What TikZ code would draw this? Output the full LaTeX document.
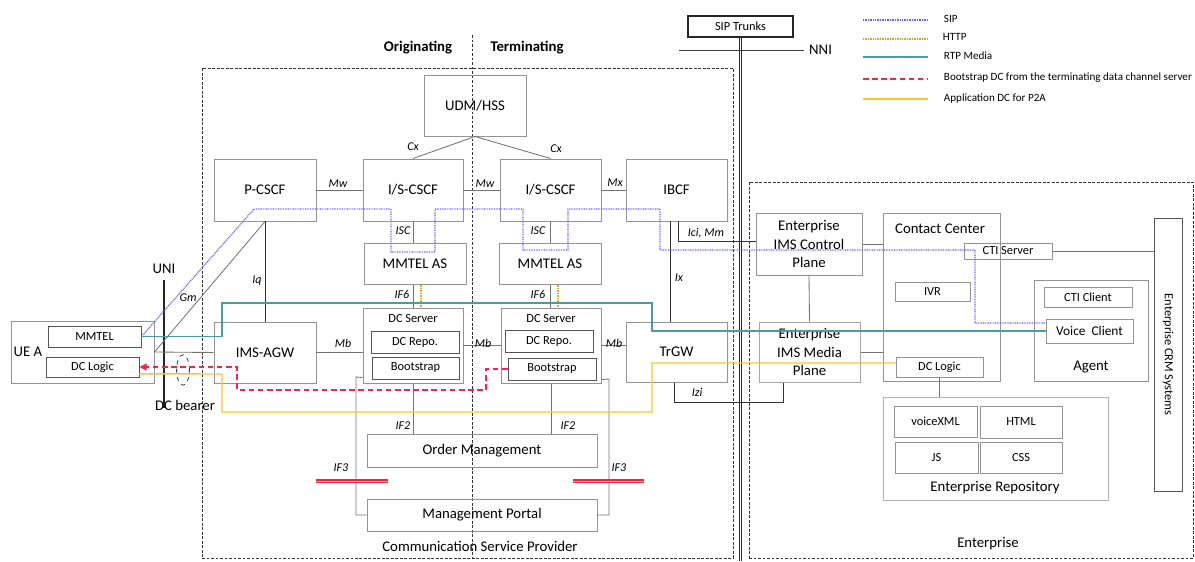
\documentclass[tikz,border=0pt]{standalone}
\usepackage{fontspec}
\setmainfont{Carlito}
\usepackage{xcolor}
\usepackage{tikz}
\usetikzlibrary{fit,arrows.meta}

\definecolor{boxgray}{HTML}{939393}
\definecolor{innergray}{HTML}{555555}
\definecolor{sipblue}{HTML}{6A5CFF}
\definecolor{httpgold}{HTML}{D4AA1E}
\definecolor{rtpteal}{HTML}{4B9CA2}
\definecolor{bootred}{HTML}{FF2050}
\definecolor{appgold}{HTML}{FFC425}
\definecolor{ifred}{HTML}{D8333D}

\newcommand{\boxfont}{\fontsize{10.5}{13}\selectfont}
\newcommand{\subfont}{\fontsize{8.8}{10.5}\selectfont}
\newcommand{\legfont}{\fontsize{7.9}{9}\selectfont}

\tikzset{
  corners/.style n args={4}{at={({(#1+#3)/2},{(#2+#4)/2})},
    minimum width={(#3-#1)*0.025cm}, minimum height={(#4-#2)*0.025cm}},
  box/.style={draw=boxgray, line width=0.7pt, inner sep=0pt, align=center, font=\boxfont},
  inbox/.style={draw=innergray, line width=0.7pt, inner sep=0pt, align=center, font=\subfont},
  area/.style={draw=black!80, line width=0.6pt, dash pattern=on 2pt off 1.2pt},
  link/.style={draw=black!55, line width=0.6pt},
  iface/.style={font=\fontsize{8.5}{10}\selectfont\itshape},
  sip/.style={draw=sipblue, line width=0.9pt, dash pattern=on 0.6pt off 0.6pt},
  http/.style={draw=httpgold, line width=0.9pt, dash pattern=on 0.6pt off 0.6pt},
  rtp/.style={draw=rtpteal, line width=0.8pt},
  boot/.style={draw=bootred, line width=0.8pt, dash pattern=on 4pt off 2.5pt},
  appdc/.style={draw=appgold, line width=1pt},
  cut/.style={draw=ifred, line width=0.9pt, double=red!40, double distance=0.7pt}
}

\begin{document}
\begin{tikzpicture}[x=0.025cm, y=-0.025cm]
% data channel: operator network (originating / terminating side) and enterprise contact center
\useasboundingbox (0,0) rectangle (1195,561);

\draw[sip] (863,20) -- (928,20);
\node[anchor=west, font=\legfont] at (939,19) {SIP};
\draw[http] (863,39) -- (928,39);
\node[anchor=west, font=\legfont] at (938,37) {HTTP};
\draw[rtp] (863,57) -- (928,57);
\node[anchor=west, font=\legfont] at (939,56) {RTP Media};
\draw[boot] (863,79) -- (928,79);
\node[anchor=west, font=\legfont] at (939,78) {Bootstrap DC from the terminating data channel server};
\draw[appdc] (863,99) -- (928,99);
\node[anchor=west, font=\legfont] at (939,99) {Application DC for P2A};

\node[area, inner sep=0pt, fit={(202,68) (733,558)}] (csp) {};
\node[font=\boxfont] (csplabel) at (480,546) {Communication Service Provider};
\node[area, inner sep=0pt, fit={(749,182) (1193,558)}] (ent) {};
\node[font=\boxfont] (entlabel) at (988,544) {Enterprise};

\coordinate (divt) at (472,35);
\coordinate (divb) at (472,558);
\draw[area] (divt) -- (divb);
\node[font=\boxfont\bfseries] (orig) at (418,48) {Originating};
\node[font=\boxfont\bfseries] (term) at (527,48) {Terminating};

\node[draw=black!85, line width=0.8pt, inner sep=0pt, corners={688}{16}{793}{37}, font=\subfont] (trunks) {SIP Trunks};
\draw[draw=black!85, line width=0.6pt, double, double distance=0.6pt] (trunks.south) -- (trunks.south |- 0,561);
\coordinate (nnil) at (679,50);
\coordinate (nnir) at (804,50);
\draw[draw=black!75, line width=0.7pt] (nnil) -- (nnir) node[right, font=\boxfont] {NNI};

\node[box, corners={424}{75}{526}{136}] (udm) {UDM/HSS};
\node[box, corners={214}{159}{316}{221}] (pcscf) {P-CSCF};
\node[box, corners={363}{159}{463}{221}] (iscscfo) {I/S-CSCF};
\node[box, corners={500}{159}{601}{221}] (iscscft) {I/S-CSCF};
\node[box, corners={626}{159}{727}{221}] (ibcf) {IBCF};
\node[box, corners={364}{243}{466}{284}] (mmtelo) {MMTEL AS};
\node[box, corners={499}{243}{601}{284}] (mmtelt) {MMTEL AS};

\node[box, corners={363}{308}{463}{383}] (dcso) {};
\node[font=\subfont] (dcsolabel) at (413,319) {DC Server};
\node[inbox, corners={371}{331}{459}{353}] (repoo) {DC Repo.};
\node[inbox, corners={372}{357}{459}{379}] (booto) {Bootstrap};
\node[box, corners={501}{308}{601}{383}] (dcst) {};
\node[font=\subfont] (dcstlabel) at (551,319) {DC Server};
\node[inbox, corners={505}{330}{593}{352}] (repot) {DC Repo.};
\node[inbox, corners={508}{358}{596}{380}] (boott) {Bootstrap};

\node[box, corners={214}{322}{316}{383}] (agw) {IMS-AGW};
\node[box, corners={626}{322}{727}{382}] (trgw) {TrGW};
\node[box, corners={367}{434}{597}{467}] (order) {Order Management};
\node[box, corners={367}{499}{597}{531}] (portal) {Management Portal};

\node[box, corners={11}{321}{154}{383}] (uea) {};
\node[font=\boxfont] (uealabel) at (28,352) {UE A};
\node[inbox, corners={48}{326}{141}{347}] (mmtel) {MMTEL};
\node[inbox, corners={46}{357}{139}{377}] (dclogic) {DC Logic};

\coordinate (unit) at (164,280);
\coordinate (unib) at (164,408);
\draw[black!85, line width=1.1pt] (unit) -- (unib);
\node[font=\boxfont] (unilabel) at (164,269) {UNI};
\node[font=\boxfont] (bearer) at (185,405) {DC bearer};
\draw[black!75, line width=0.6pt, dashed] (183,370) ellipse [x radius=0.16cm, y radius=0.38cm];

\node[box, corners={756}{213}{862}{275}] (ecp) {Enterprise\\IMS Control\\Plane};
\node[box, draw=black!35, corners={759}{322}{860}{382}] (emp) {Enterprise\\IMS Media\\Plane};
\node[box, corners={883}{213}{1000}{381}] (cc) {};
\node[font=\boxfont] (cclabel) at (940,229) {Contact Center};
\node[inbox, draw=boxgray, corners={964}{243}{1052}{259}] (cti) {CTI Server};
\node[inbox, draw=boxgray, corners={895}{282}{970}{301}] (ivr) {IVR};
\node[inbox, draw=boxgray, corners={896}{357}{983}{377}] (edclogic) {DC Logic};
\node[box, draw=black!30, corners={883}{397}{1108}{500}] (repo) {};
\node[font=\boxfont] (repolabel) at (995,488) {Enterprise Repository};
\node[inbox, draw=boxgray, corners={894}{406}{977}{437}] (vxml) {voiceXML};
\node[inbox, draw=boxgray, corners={980}{406}{1062}{438}] (html) {HTML};
\node[inbox, draw=boxgray, corners={895}{442}{978}{473}] (js) {JS};
\node[inbox, draw=boxgray, corners={980}{442}{1062}{473}] (css) {CSS};
\node[box, corners={1034}{280}{1148}{381}] (agent) {};
\node[font=\boxfont] (agentlabel) at (1091,367) {Agent};
\node[inbox, draw=boxgray, corners={1044}{287}{1132}{307}] (cticlient) {CTI Client};
\node[inbox, draw=boxgray, font=\fontsize{9.5}{11}\selectfont, corners={1046}{319}{1133}{343}] (vclient) {Voice\ \ Client};
\node[box, draw=innergray, corners={1154}{218}{1182}{491}] (crm) {};
\node[rotate=-90, font=\subfont] (crmlabel) at (crm.center) {Enterprise CRM Systems};

% signalling and media interfaces
\draw[link] (udm.south) -- (iscscfo.north);
\draw[link] (udm.south) -- (iscscft.north);
\node[iface] at (413,147) {Cx};
\node[iface] at (556,149) {Cx};
\draw[link] (pcscf.east) -- (iscscfo.west);
\node[iface] at (338,184) {Mw};
\draw[link] (iscscfo.east) -- (iscscft.west);
\node[iface] at (485,184) {Mw};
\draw[link] (iscscft.east) -- (ibcf.west);
\node[iface] at (615,183) {Mx};
\draw[link] (iscscfo.south) -- (iscscfo.south |- mmtelo.north);
\node[iface] at (403,231) {ISC};
\draw[link] (iscscft.south) -- (iscscft.south |- mmtelt.north);
\node[iface] at (538,231) {ISC};
\draw[link] (dcso.north |- mmtelo.south) -- (dcso.north);
\draw[http] ([xshift=0.2cm]dcso.north |- mmtelo.south) -- ([xshift=0.2cm]dcso.north);
\node[iface] at (402,294) {IF6};
\draw[link] (mmtelt.south) -- (mmtelt.south |- dcst.north);
\draw[http] ([xshift=0.2cm]mmtelt.south) -- ([xshift=0.2cm]mmtelt.south |- dcst.north);
\node[iface] at (538,294) {IF6};
\draw[link] (agw.east) -- (agw.east -| dcso.west);
\node[iface] at (343,343) {Mb};
\draw[link] (dcso.east) -- (dcst.west);
\node[iface] at (483,343) {Mb};
\draw[link] (dcst.east) -- (dcst.east -| trgw.west);
\node[iface] at (614,343) {Mb};
\draw[link] (uea.east) -- (agw.west);
\draw[link] (uea.east) -- (pcscf.south);
\node[iface] at (188,298) {Gm};
\draw[link, draw=black!80] (pcscf.south) -- (agw.north);
\node[iface] at (257,281) {Iq};
\draw[link, draw=black!80] ([xshift=-0.15cm]ibcf.south) -- ([xshift=-0.15cm]ibcf.south |- trgw.north);
\node[iface] at (679,278) {Ix};
\draw[link, draw=black!80] ([xshift=0.04cm]ibcf.south) |- ([yshift=0.07cm]ecp.west);
\node[iface] at (706,233) {Ici, Mm};
\draw[link, draw=black!80] ([xshift=-0.06cm]trgw.south) |- (783,402) -- (783,402 |- emp.south);
\node[iface] at (697,392) {Izi};

\draw[link] (dcso.south) -- (dcso.south |- order.north);
\node[iface] at (403,426) {IF2};
\draw[link] (dcst.south) -- (dcst.south |- order.north);
\node[iface] at (568,426) {IF2};
\draw[link] ([yshift=0.15cm]dcso.south west) -- (356,377) |- (portal.west);
\node[iface] at (341,468) {IF3};
\draw[cut] (316,481) -- (388,481);
\draw[link] ([yshift=0.1cm]dcst.south east) -- (609,379) |- (portal.east);
\node[iface] at (619,468) {IF3};
\draw[cut] (573,481) -- (644,481);

\draw[link] (ecp.south) -- (emp.north);
\draw[link] (ecp.east) -- (ecp.east -| cc.west);
\draw[link] (emp.east) -- (emp.east -| cc.west);
\draw[link] (cti.east) -- (cti.east -| crm.west);
\draw[link] (edclogic.south) -- (edclogic.south |- repo.north);

% SIP, media and data channel paths
\draw[sip] (mmtel.east) -- (254,209) -| (391,252) -| (435,209) -| (523,250) -| (568,209) -| (660,250) -| (975,323) -- ([yshift=0.2cm]vclient.west);
\draw[rtp] (mmtel.east) -- (222,336.5) |- (652,303) |- (vclient.west);
\draw[boot, -{Triangle[length=5pt, width=5pt]}] (boott.west) -| (486,390) -| (237,367) -- (dclogic.east);
\draw[appdc] ([yshift=-0.17cm]dclogic.east) -- (222,374) |- (652,412) |- ([yshift=0.1cm]edclogic.west);

\end{tikzpicture}
\end{document}
